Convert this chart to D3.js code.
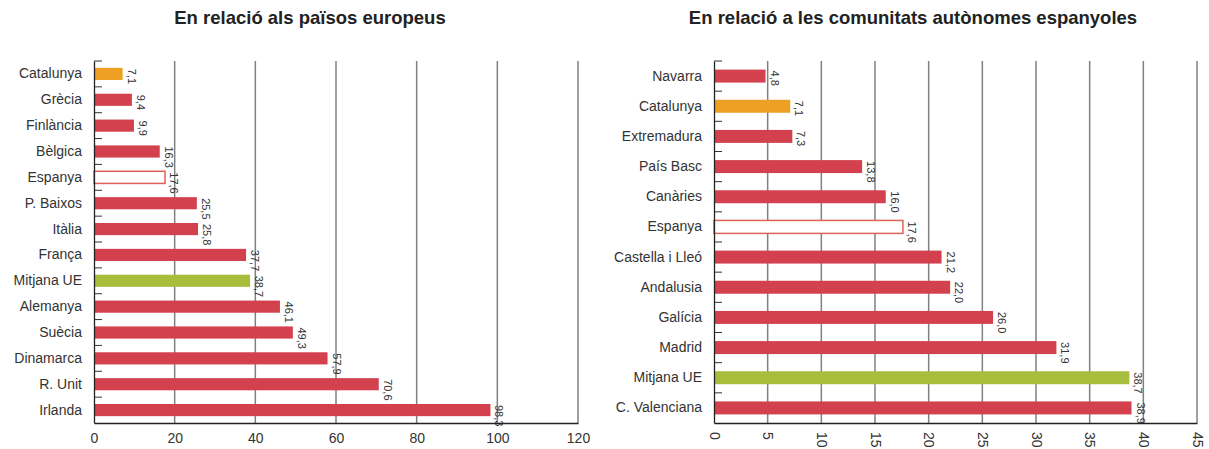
<!DOCTYPE html>
<html>
<head>
<meta charset="utf-8">
<script src="https://cdn.jsdelivr.net/npm/d3@7/dist/d3.min.js"></script>
<style>
  body { margin: 0; background: #fff; }
  text { font-family: "Liberation Sans", Arial, Helvetica, sans-serif; }
</style>
</head>
<body>
<div id="chart"></div>
<script>
// dades: en relació als països europeus
var eu_categories = ["Catalunya", "Grècia", "Finlància", "Bèlgica", "Espanya", "P. Baixos", "Itàlia",
  "França", "Mitjana UE", "Alemanya", "Suècia", "Dinamarca", "R. Unit", "Irlanda"];
var eu_values = [7.1, 9.4, 9.9, 16.3, 17.6, 25.5, 25.8, 37.7, 38.7, 46.1, 49.3, 57.9, 70.6, 98.3];
var eu_ticks = [0, 20, 40, 60, 80, 100, 120];

// dades: en relació a les comunitats autònomes
var ccaa_categories = ["Navarra", "Catalunya", "Extremadura", "País Basc", "Canàries", "Espanya",
  "Castella i Lleó", "Andalusia", "Galícia", "Madrid", "Mitjana UE", "C. Valenciana"];
var ccaa_values = [4.8, 7.1, 7.3, 13.8, 16.0, 17.6, 21.2, 22.0, 26.0, 31.9, 38.7, 38.9];
var ccaa_ticks = [0, 5, 10, 15, 20, 25, 30, 35, 40, 45];

var svg = d3.select("#chart").append("svg")
  .attr("width", 1209)
  .attr("height", 449);

var fmt = function(v) { return d3.format(".1f")(v).replace(".", ","); };

function bar_fill(name) {
  if (name == "Catalunya") return "#eda023";
  if (name == "Mitjana UE") return "#a9bd3c";
  if (name == "Espanya") return "#fff";
  return "#d3414f";
}

function build_panel(o) {
  var x = d3.scaleLinear()
    .domain([0, d3.max(o.ticks)])
    .range([o.left, o.right]);

  var y = d3.scaleBand()
    .domain(o.categories)
    .range([o.top, o.bottom]);

  var g = svg.append("g");

  // titol
  g.append("text")
    .attr("x", o.title_x)
    .attr("y", 24)
    .attr("text-anchor", "middle")
    .style("font-size", "18.5px")
    .style("font-weight", "bold")
    .style("fill", "#222")
    .text(o.title);

  // linies verticals
  g.selectAll(".grid")
    .data(o.ticks.slice(1))
    .enter().append("line")
    .attr("x1", function(d) { return x(d); })
    .attr("x2", function(d) { return x(d); })
    .attr("y1", o.top)
    .attr("y2", o.bottom)
    .style("stroke", "#808080")
    .style("stroke-width", 1.5);

  var bh = y.bandwidth() * o.bar_ratio;

  g.selectAll(".bar")
    .data(o.categories)
    .enter().append("rect")
    .attr("x", x(0))
    .attr("y", function(d) { return y(d) + (y.bandwidth() - bh) / 2; })
    .attr("width", function(d, i) { return x(o.values[i]) - x(0); })
    .attr("height", bh)
    .style("fill", function(d) { return bar_fill(d); })
    .style("stroke", function(d) { return d == "Espanya" ? "#e0605a" : "none"; })
    .style("stroke-width", 1.5);

  // etiquetes de valor, girades
  g.selectAll(".val")
    .data(o.categories)
    .enter().append("text")
    .attr("transform", function(d, i) {
      return "translate(" + (x(o.values[i]) + 5) + "," + (y(d) + (y.bandwidth() - bh) / 2 + 1) + ") rotate(90)";
    })
    .style("font-size", "11px")
    .style("fill", "#333")
    .text(function(d, i) { return fmt(o.values[i]); });

  // petites marques a l'eix vertical
  g.selectAll(".ytick")
    .data(o.categories)
    .enter().append("line")
    .attr("x1", x(0))
    .attr("x2", x(0) + 8)
    .attr("y1", function(d) { return y(d); })
    .attr("y2", function(d) { return y(d); })
    .style("stroke", "#333")
    .style("stroke-width", 1);

  var yAxis = d3.axisLeft(y).tickSize(0).tickPadding(12);
  var ya = g.append("g")
    .attr("transform", "translate(" + x(0) + ",0)")
    .call(yAxis);
  ya.select(".domain").style("stroke", "#222").style("stroke-width", 1.3);
  ya.selectAll("text")
    .style("font-size", "14px")
    .style("fill", "#333")
    .style("font-family", "'Liberation Sans', Arial, sans-serif");

  var xAxis = d3.axisBottom(x).tickValues(o.ticks).tickSize(0).tickPadding(10)
    .tickFormat(function(d) { return d; });
  var xa = g.append("g")
    .attr("transform", "translate(0," + o.bottom + ")")
    .call(xAxis);
  xa.select(".domain").style("stroke", "#222").style("stroke-width", 1.3);
  xa.selectAll("text")
    .style("font-size", "14px")
    .style("fill", "#333")
    .style("font-family", "'Liberation Sans', Arial, sans-serif");

  if (o.rotate_ticks) {
    xa.selectAll("text")
      .attr("x", 0)
      .attr("y", 0)
      .attr("dy", "0.35em")
      .attr("transform", "translate(0,9) rotate(90)")
      .style("text-anchor", "start");
  }
}

build_panel({
  title: "En relació als països europeus",
  title_x: 310,
  categories: eu_categories,
  values: eu_values,
  ticks: eu_ticks,
  left: 94, right: 578, top: 61, bottom: 423,
  bar_ratio: 0.47,
  rotate_ticks: false
});

build_panel({
  title: "En relació a les comunitats autònomes espanyoles",
  title_x: 913,
  categories: ccaa_categories,
  values: ccaa_values,
  ticks: ccaa_ticks,
  left: 714, right: 1197, top: 61, bottom: 423,
  bar_ratio: 0.43,
  rotate_ticks: true
});
</script>
</body>
</html>
